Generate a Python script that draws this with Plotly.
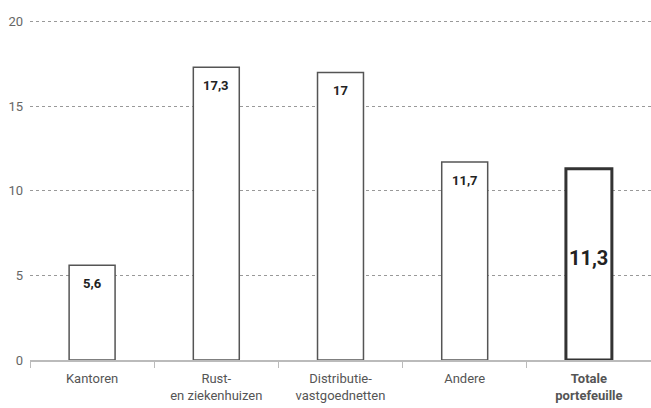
import plotly.graph_objects as go

categories = ["Kantoren", "Rust-<br>en ziekenhuizen", "Distributie-<br>vastgoednetten", "Andere", "<b>Totale</b><br><b>portefeuille</b>"]
values = [5.6, 17.3, 17.0, 11.7, 11.3]
value_labels = ["5,6", "17,3", "17", "11,7", "11,3"]
y_ticks = [0, 5, 10, 15, 20]

fig = go.Figure()
fig.add_trace(go.Bar(
    x=categories[:4], y=values[:4], width=0.37,
    marker=dict(color="white", line=dict(color="#555555", width=1.5)),
    hoverinfo="skip",
))
fig.add_trace(go.Bar(
    x=categories[4:], y=values[4:], width=0.37,
    marker=dict(color="white", line=dict(color="#333333", width=3)),
    hoverinfo="skip",
))

for i, (c, v, lab) in enumerate(zip(categories, values, value_labels)):
    if i < 4:
        fig.add_annotation(x=c, y=v, text=f"<b>{lab}</b>", showarrow=False,
                           yshift=-18, yanchor="middle",
                           font=dict(size=13, color="#222222", family="Roboto"))
    else:
        fig.add_annotation(x=c, y=v / 2, text=f"<b>{lab}</b>", showarrow=False,
                           yshift=6, yanchor="middle",
                           font=dict(size=20, color="#222222", family="Roboto"))

fig.update_layout(
    width=651, height=408,
    margin=dict(l=30, r=0, t=20, b=48),
    plot_bgcolor="white", paper_bgcolor="white",
    showlegend=False,
    font=dict(family="Roboto", color="#555555", size=13),
    xaxis=dict(
        showline=True, linecolor="#bbbbbb", linewidth=1.5,
        ticks="outside", tickson="boundaries", ticklen=6, tickcolor="#bbbbbb",
        tickfont=dict(size=13, color="#555555"),
        ticklabelstandoff=6,
        showgrid=False,
    ),
    yaxis=dict(
        range=[0, 20.1], tickvals=y_ticks,
        showgrid=True, gridcolor="#999999", griddash="3px,3px", gridwidth=1,
        zeroline=False, showline=False,
        tickfont=dict(size=13, color="#666666"),
        ticklabelstandoff=6,
    ),
)

fig.write_html("out.html")
